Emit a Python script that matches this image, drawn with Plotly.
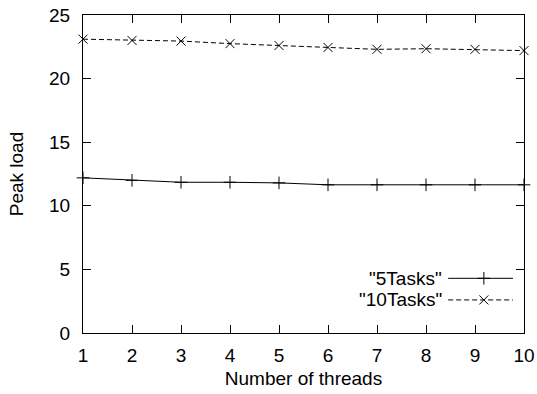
import plotly.graph_objects as go

# Peak load measured for different thread counts
threads = [1, 2, 3, 4, 5, 6, 7, 8, 9, 10]
load_5tasks = [12.2, 12.0, 11.85, 11.85, 11.8, 11.65, 11.65, 11.65, 11.65, 11.65]
load_10tasks = [23.1, 23.0, 22.95, 22.75, 22.6, 22.45, 22.3, 22.35, 22.3, 22.2]

series_names = ['"5Tasks"', '"10Tasks"']
x_ticks = list(range(1, 11))
y_ticks = [0, 5, 10, 15, 20, 25]

FONT = "Liberation Sans, Arial, Helvetica, sans-serif"
FS = 19
INK = "black"

fig = go.Figure()

fig.add_trace(go.Scatter(
    x=threads, y=load_5tasks, mode="lines+markers", name=series_names[0],
    line=dict(color=INK, width=1),
    marker=dict(symbol="cross-thin", size=9, line=dict(color=INK, width=1)),
    cliponaxis=False, showlegend=False,
))
fig.add_trace(go.Scatter(
    x=threads, y=load_10tasks, mode="lines+markers", name=series_names[1],
    line=dict(color=INK, width=1, dash="5px,3px"),
    marker=dict(symbol="x-thin", size=9, line=dict(color=INK, width=1)),
    cliponaxis=False, showlegend=False,
))

# Key in the lower right corner: label on the left, line sample on the right
key_rows = [0.172, 0.104]
key_styles = [
    dict(dash="solid", symbol="cross-thin"),
    dict(dash="5px,3px", symbol="x-thin"),
]
for name, yk, st in zip(series_names, key_rows, key_styles):
    fig.add_trace(go.Scatter(
        x=[0.828, 0.975], y=[yk, yk], mode="lines", xaxis="x2", yaxis="y2",
        line=dict(color=INK, width=1, dash=st["dash"]), showlegend=False,
        hoverinfo="skip",
    ))
    fig.add_trace(go.Scatter(
        x=[0.909], y=[yk], mode="markers", xaxis="x2", yaxis="y2",
        marker=dict(symbol=st["symbol"], size=9, line=dict(color=INK, width=1)),
        showlegend=False, hoverinfo="skip",
    ))
    fig.add_annotation(
        x=0.819, y=yk, xref="x2", yref="y2", text=name, showarrow=False,
        xanchor="right", yanchor="middle", font=dict(family=FONT, size=FS, color=INK),
    )

axis_common = dict(
    showline=True, linecolor=INK, linewidth=1, mirror="ticks",
    ticks="inside", ticklen=8, tickcolor=INK, tickwidth=1,
    showgrid=False, zeroline=False, automargin=False,
    tickfont=dict(family=FONT, size=FS, color=INK),
)

fig.update_layout(
    width=537, height=394,
    margin=dict(l=83, r=13, t=15, b=61),
    paper_bgcolor="white", plot_bgcolor="white",
    font=dict(family=FONT, size=FS, color=INK),
    xaxis=dict(
        range=[1, 10], tickvals=x_ticks, ticklabelstandoff=5,
        title=dict(text="Number of threads", font=dict(family=FONT, size=FS), standoff=6),
        **axis_common,
    ),
    yaxis=dict(
        range=[0, 25], tickvals=y_ticks, ticklabelstandoff=8,
        title=dict(text="Peak load", font=dict(family=FONT, size=FS), standoff=20),
        **axis_common,
    ),
    xaxis2=dict(range=[0, 1], overlaying="x", visible=False, fixedrange=True),
    yaxis2=dict(range=[0, 1], overlaying="y", visible=False, fixedrange=True),
)

fig.write_html("out.html")
